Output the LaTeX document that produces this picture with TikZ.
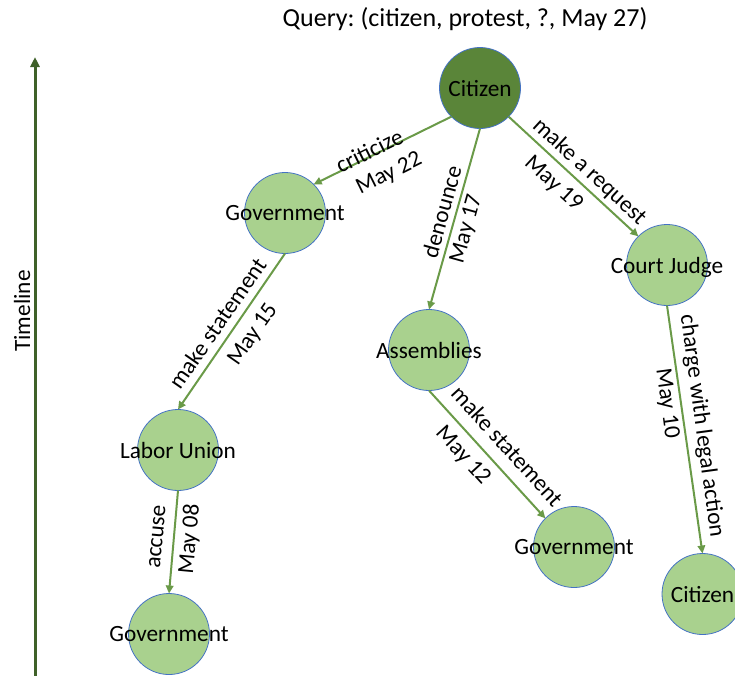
\documentclass[tikz,border=0pt]{standalone}
\usepackage{fontspec}
\setmainfont{Carlito}
\frenchspacing
\usetikzlibrary{arrows.meta}
\definecolor{nodefill}{HTML}{A9D18E}
\definecolor{rootfill}{HTML}{5A8539}
\definecolor{nodeline}{HTML}{4472C4}
\definecolor{edgecol}{HTML}{6A9A48}
\definecolor{timecol}{HTML}{3F6129}
\newcommand{\ctr}[1]{\makebox[0pt]{#1}}
\begin{document}
\begin{tikzpicture}[x=1pt,y=-1pt,
  ent/.style={circle, draw=nodeline, line width=0.8pt, fill=nodefill, minimum size=81pt,
    inner sep=0pt, outer sep=0pt, font=\fontsize{23.3}{28}\selectfont, text depth=0pt},
  rootent/.style={ent, fill=rootfill},
  rel/.style={draw=edgecol, line width=2pt, -{Triangle[length=8pt,width=7.5pt]}},
  lab/.style={font=\fontsize{23.3}{28}\selectfont, inner sep=0pt, anchor=center},
  timeline/.style={draw=timecol, line width=3pt, -{Triangle[length=10pt,width=9pt]}},
]
\useasboundingbox (0,0) rectangle (735,675);
% title
\node[anchor=base, font=\fontsize{26}{30}\selectfont, inner sep=0pt] (title) at (465,26) {Query: (citizen, protest, ?, May 27)};
% timeline
\coordinate (tl0) at (35,676);
\coordinate (tl1) at (35,57);
\draw[timeline] (tl0) -- (tl1);
\node[lab, rotate=90] (tlab) at (22,311) {Timeline};
% entities
\node[rootent] (root) at (480,88) {\ctr{Citizen}};
\node[ent] (gov1) at (285,213) {\ctr{Government}};
\node[ent] (labor) at (178,450) {\ctr{Labor Union}};
\node[ent] (govB) at (169,634) {\ctr{Government}};
\node[ent] (assem) at (429,350) {\ctr{Assemblies}};
\node[ent] (govR) at (574,547) {\ctr{Government}};
\node[ent] (judge) at (667,265) {\ctr{Court Judge}};
\node[ent] (citR) at (702.5,594) {\ctr{Citizen}};
% relations
\draw[rel] (root.south west) -- (gov1.north east);
\draw[rel] (root.south) -- (assem.north);
\draw[rel] (root.south east) -- (judge.north west);
\draw[rel] (gov1.south) -- (labor.north);
\draw[rel] (labor.south) -- (govB.north);
\draw[rel] (assem.south) -- (govR.north west);
\draw[rel] (judge.south) -- (citR.north);
% relation labels
\node[lab, rotate=26.4] (l1a) at (369.3,150.7) {criticize};
\node[lab, rotate=26.4] (l1b) at (389.3,174) {May 22};
\node[lab, rotate=74.5] (l2a) at (441.7,211.7) {denounce};
\node[lab, rotate=74.5] (l2b) at (466.7,229) {May 17};
\node[lab, rotate=-42.6] (l3a) at (589.3,171.7) {make a request};
\node[lab, rotate=-42.6] (l3b) at (553.3,184) {May 19};
\node[lab, rotate=55.2] (l4a) at (217.3,323.3) {make statement};
\node[lab, rotate=55.2] (l4b) at (253.3,335) {May 15};
\node[lab, rotate=84.7] (l5a) at (157.3,536.7) {accuse};
\node[lab, rotate=84.7] (l5b) at (190,539.3) {May 08};
\node[lab, rotate=-47.6] (l6a) at (507.3,446) {make statement};
\node[lab, rotate=-47.6] (l6b) at (462.7,456) {May 12};
\node[lab, rotate=-82.3] (l7a) at (701.7,426) {charge with legal action};
\node[lab, rotate=-82.3] (l7b) at (666.7,403.3) {May 10};
\end{tikzpicture}
\end{document}
